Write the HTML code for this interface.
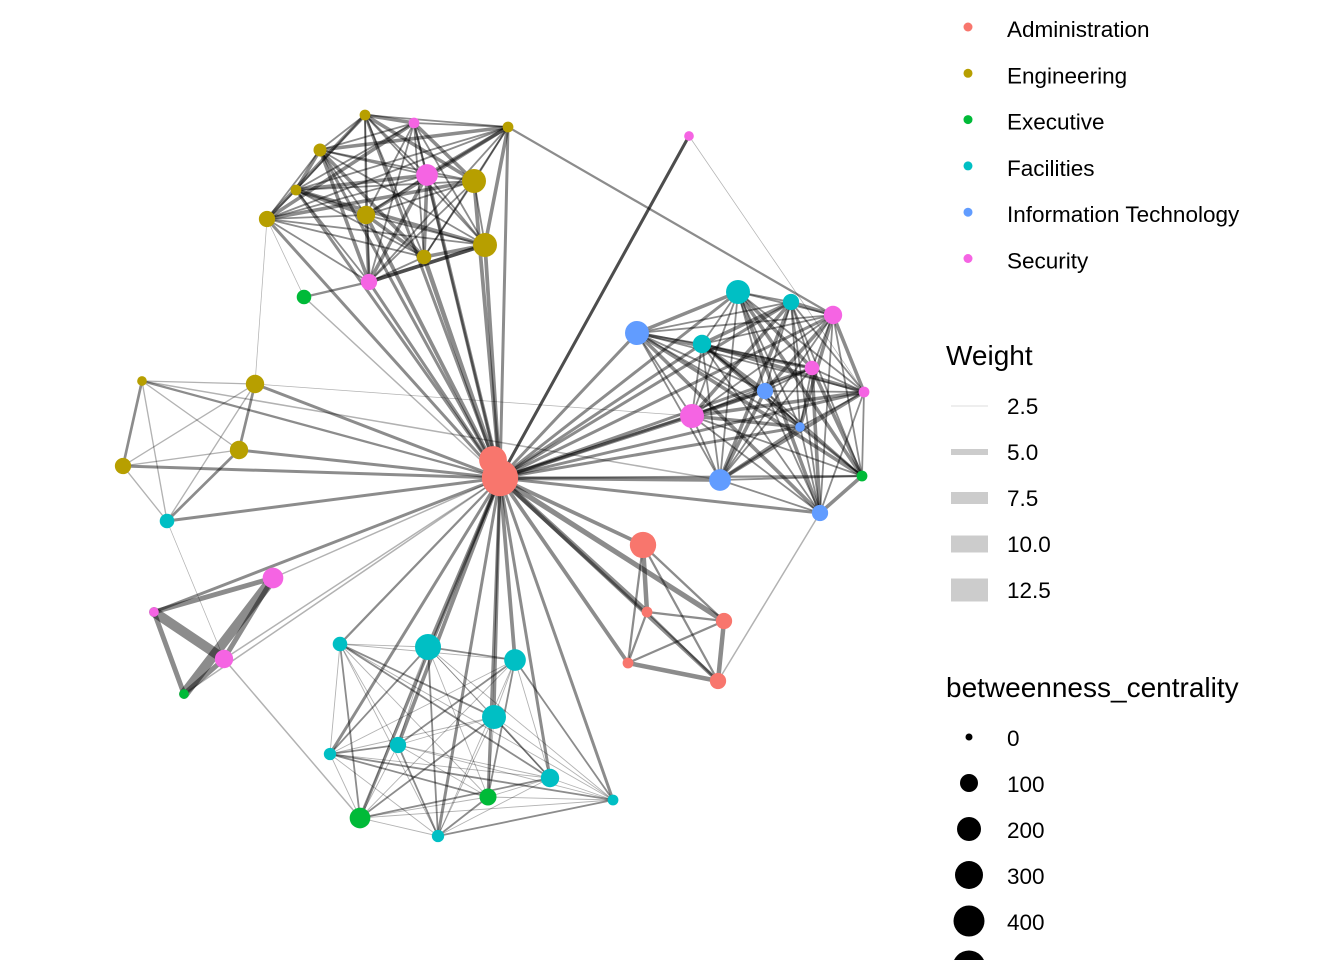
<!DOCTYPE html>
<html><head><meta charset="utf-8"><style>
body{margin:0;background:#fff;}
svg{display:block;font-family:"Liberation Sans",sans-serif;}
</style></head><body>
<svg id="chart" width="1344" height="960">
<g id="edges"></g>
<g id="nodes"></g>
<g id="legend"></g>
</svg>
<script>
const nodeX=[500,493,643,724,718,647,628,365,320,508,474,485,296,267,366,424,142,255,239,123,304,862,184,360,488,738,791,702,167,340,428,515,494,398,330,550,613,438,637,765,720,820,800,689,414,427,369,833,812,864,692,273,154,224];
const nodeY=[478,460,545,621,681,612,663,115,150,127,181,245,190,219,215,257,381,384,450,466,297,476,694,818,797,292,302,344,521,644,647,660,717,745,754,778,800,836,333,391,480,513,427,136,123,175,282,315,368,392,416,578,612,659];
const nodeGroup=[0,0,0,0,0,0,0,1,1,1,1,1,1,1,1,1,1,1,1,1,2,2,2,2,2,3,3,3,3,3,3,3,3,3,3,3,3,3,4,4,4,4,4,5,5,5,5,5,5,5,5,5,5,5];
const nodeBetweenness=[600,300,260,60,60,10,10,10,25,10,200,200,10,60,90,40,5,90,90,60,40,10,5,130,70,200,60,90,40,40,250,150,200,60,20,90,10,20,200,60,150,60,5,5,10,150,60,90,40,10,200,130,5,90];
const groupNames=["Administration","Engineering","Executive","Facilities","Information Technology","Security"];
const groupColors=["#F8766D","#B79F00","#00BA38","#00BFC4","#619CFF","#F564E3"];
const hubTargets=[1,2,3,4,5,6,7,8,9,10,11,12,13,14,15,16,17,18,19,20,21,22,23,24,25,26,27,28,29,30,31,32,33,34,35,36,37,38,39,40,41,42,43,44,45,46,47,48,49,50,51,52,53];
const hubWeights=[4,5,7,5,7,5,4,4,4,5,5,4,4,5,6,3,4,4,4,2,3,2,4,4,4,4,4,4,3,5,5,4,5,4,4,4,4,4,4,5,4,4,4,3,5,4,4,4,4,5,2,4,2];
const cliques=[[7,8,9,10,11,12,13,14,15,44,45,46],[25,26,27,38,39,40,41,42,47,48,49,50,21],[29,30,31,32,33,34,35,36,37,23,24],[16,17,18,19,28],[51,52,53,22],[2,3,4,5,6]];
const cliqueWeights=[4,4,2,3,11,5];
const extraEdges=[[43,49,1],[43,0,4],[9,47,3],[20,46,3],[20,13,1],[28,53,1],[53,23,2],[4,41,2],[16,40,2],[17,50,1],[13,17,1],[11,46,5]];
const wScale=w=>w*0.75;
const rScale=b=>3.5+Math.sqrt(b)*0.6;
const NS="http://www.w3.org/2000/svg";
const eg=document.getElementById('edges');
function edge(a,b,w){
  const l=document.createElementNS(NS,'line');
  l.setAttribute('x1',nodeX[a]);l.setAttribute('y1',nodeY[a]);
  l.setAttribute('x2',nodeX[b]);l.setAttribute('y2',nodeY[b]);
  l.setAttribute('stroke','#000');l.setAttribute('stroke-opacity',w>2?'0.45':'0.3');
  l.setAttribute('stroke-width',wScale(w));l.setAttribute('stroke-linecap','round');
  
  
  eg.appendChild(l);
}
hubTargets.forEach((t,i)=>edge(0,t,hubWeights[i]));
cliques.forEach((c,ci)=>{for(let i=0;i<c.length;i++)for(let j=i+1;j<c.length;j++)edge(c[i],c[j],cliqueWeights[ci]*(((i+j)%3)?0.6:1.2));});
extraEdges.forEach(e=>edge(e[0],e[1],e[2]));
const ng=document.getElementById('nodes');
const order=nodeX.map((_,i)=>i).sort((a,b)=>nodeBetweenness[a]-nodeBetweenness[b]);
order.forEach(i=>{
  const c=document.createElementNS(NS,'circle');
  c.setAttribute('cx',nodeX[i]);c.setAttribute('cy',nodeY[i]);
  c.setAttribute('r',rScale(nodeBetweenness[i]));
  c.setAttribute('fill',groupColors[nodeGroup[i]]);
  
  
  ng.appendChild(c);
});
const lg=document.getElementById('legend');
function txt(x,y,s,size){const t=document.createElementNS(NS,'text');t.setAttribute('x',x);t.setAttribute('y',y);t.setAttribute('font-size',size);t.setAttribute('fill','#000');t.textContent=s;


lg.appendChild(t);}
groupNames.forEach((g,i)=>{
  const y=29+i*46.3;
  const c=document.createElementNS(NS,'circle');
  c.setAttribute('cx',968);c.setAttribute('cy',y-2);c.setAttribute('r',4.5);c.setAttribute('fill',groupColors[i]);
  
  
  lg.appendChild(c);
  txt(1007,y+8,g,22.5);
});
txt(946,365,'Weight',28);
const wLabels=['2.5','5.0','7.5','10.0','12.5'];
const wThick=[1,6,12,17,23];
wLabels.forEach((s,i)=>{
  const y=406+i*46;
  const r=document.createElementNS(NS,'rect');
  r.setAttribute('x',951);r.setAttribute('y',y-wThick[i]/2);r.setAttribute('width',37);r.setAttribute('height',wThick[i]);
  r.setAttribute('fill',i==0?'#ddd':'#ccc');
  
  
  lg.appendChild(r);
  txt(1007,y+8,s,22.5);
});
txt(946,697,'betweenness_centrality',28);
const bLabels=['0','100','200','300','400','500'];
const bR=[3.5,9,12,14,15.5,16.5];
bLabels.forEach((s,i)=>{
  const y=737+i*46;
  const c=document.createElementNS(NS,'circle');
  c.setAttribute('cx',969);c.setAttribute('cy',y);c.setAttribute('r',bR[i]);c.setAttribute('fill','#000');
  
  
  lg.appendChild(c);
  txt(1007,y+9,s,22.5);
});
</script>
</body></html>
